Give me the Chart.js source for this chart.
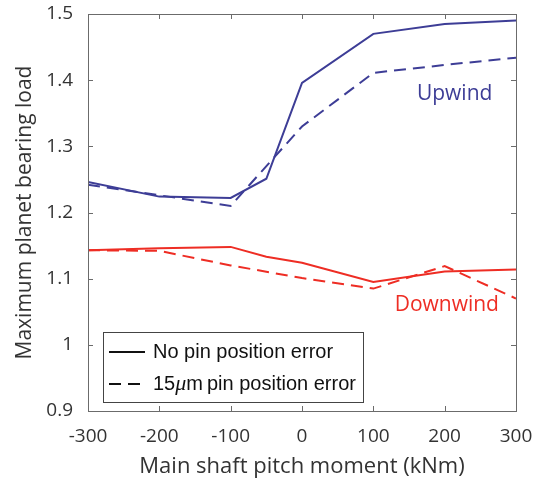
<!DOCTYPE html>
<html>
<head>
<meta charset="utf-8">
<script src="https://cdn.jsdelivr.net/npm/chart.js@4/dist/chart.umd.min.js"></script>
<style>
  html, body { margin: 0; padding: 0; background: #fff; }
  #wrap { width: 539px; height: 481px; }
</style>
</head>
<body>
<div id="wrap"><canvas id="c" width="539" height="481"></canvas></div>
<script>
// pitch moment (kNm)
const moments = [-300, -200, -100, -50, 0, 100, 200, 300];
const xTicks = [-300, -200, -100, 0, 100, 200, 300];
const yTicks = [0.9, 1, 1.1, 1.2, 1.3, 1.4, 1.5];

const upwindNoError = [1.246, 1.224, 1.222, 1.251, 1.396, 1.470, 1.485, 1.490];
const upwindPinError = [1.242, 1.226, 1.210, null, 1.330, 1.411, 1.423, 1.434];
const downwindNoError = [1.143, 1.146, 1.148, 1.133, 1.124, 1.095, 1.111, 1.114];
const downwindPinError = [1.143, 1.142, 1.120, null, 1.101, 1.085, 1.119, 1.070];

const BLUE = '#3d3d96';
const RED = '#ee2d24';
const AXIS = '#6b6b6b';
const TEXT = '#333333';
const FONT = "'Open Sans', sans-serif";

function pts(ys) {
  return moments.map((x, i) => ({ x: x, y: ys[i] }));
}

function noOverflow(s) {
  s.paddingTop = 0; s.paddingBottom = 0; s.paddingLeft = 0; s.paddingRight = 0;
}

const boxAndTicks = {
  id: 'boxAndTicks',
  afterDraw(chart) {
    const ctx = chart.ctx;
    const a = chart.chartArea;
    const xs = chart.scales.x, ys = chart.scales.y;
    ctx.save();
    ctx.strokeStyle = AXIS;
    ctx.lineWidth = 1;
    ctx.strokeRect(a.left + 0.5, a.top + 0.5, a.right - a.left, a.bottom - a.top);
    ctx.beginPath();
    xTicks.forEach(v => {
      const px = Math.round(xs.getPixelForValue(v)) + 0.5;
      ctx.moveTo(px, a.bottom); ctx.lineTo(px, a.bottom - 5);
      ctx.moveTo(px, a.top); ctx.lineTo(px, a.top + 5);
    });
    yTicks.forEach(v => {
      const py = Math.round(ys.getPixelForValue(v)) + 0.5;
      ctx.moveTo(a.left, py); ctx.lineTo(a.left + 5, py);
      ctx.moveTo(a.right, py); ctx.lineTo(a.right - 5, py);
    });
    ctx.stroke();

    // series labels
    ctx.font = "21px " + FONT;
    ctx.textAlign = 'center';
    ctx.textBaseline = 'middle';
    ctx.fillStyle = BLUE;
    ctx.fillText('Upwind', xs.getPixelForValue(214), ys.getPixelForValue(1.379));
    ctx.fillStyle = RED;
    ctx.fillText('Downwind', xs.getPixelForValue(203), ys.getPixelForValue(1.060));

    // legend box
    const lx = a.left + 15, ly = a.bottom - 79, lw = 260, lh = 70;
    ctx.fillStyle = '#fff';
    ctx.fillRect(lx, ly, lw, lh);
    ctx.strokeStyle = '#444';
    ctx.lineWidth = 1;
    ctx.strokeRect(lx + 0.5, ly + 0.5, lw, lh);
    ctx.strokeStyle = '#111';
    ctx.lineWidth = 2;
    const r1 = ly + 20, r2 = ly + 52;
    ctx.beginPath();
    ctx.moveTo(lx + 6, r1); ctx.lineTo(lx + 42, r1);
    ctx.stroke();
    ctx.setLineDash([12, 7]);
    ctx.beginPath();
    ctx.moveTo(lx + 6, r2); ctx.lineTo(lx + 42, r2);
    ctx.stroke();
    ctx.setLineDash([]);
    ctx.fillStyle = '#111';
    ctx.textAlign = 'left';
    const lf = "20px 'Liberation Sans', Arial, sans-serif";
    ctx.font = lf;
    const tx = lx + 50;
    ctx.fillText('No pin position error', tx, r1);
    let cx = tx;
    ctx.fillText('15', cx, r2);
    cx += ctx.measureText('15').width;
    ctx.font = "italic 22px 'Liberation Serif', serif";
    ctx.fillText('\u03bc', cx, r2);
    cx += ctx.measureText('\u03bc').width;
    ctx.font = lf;
    ctx.fillText('m', cx, r2);
    cx += ctx.measureText('m').width + 4;
    ctx.fillText('pin position error', cx, r2);
    ctx.restore();
  }
};

new Chart(document.getElementById('c'), {
  type: 'line',
  data: {
    datasets: [
      { data: pts(upwindNoError), borderColor: BLUE, borderWidth: 2 },
      { data: pts(upwindPinError), borderColor: BLUE, borderWidth: 2, borderDash: [12, 7] },
      { data: pts(downwindNoError), borderColor: RED, borderWidth: 2 },
      { data: pts(downwindPinError), borderColor: RED, borderWidth: 2, borderDash: [12, 7] }
    ]
  },
  options: {
    responsive: false,
    animation: false,
    spanGaps: true,
    elements: { point: { radius: 0 }, line: { tension: 0, fill: false } },
    layout: { padding: { top: 14, right: 23, left: 0, bottom: 0 } },
    plugins: { legend: { display: false }, tooltip: { enabled: false } },
    scales: {
      x: {
        type: 'linear',
        min: -300, max: 300,
        afterBuildTicks: s => { s.ticks = xTicks.map(v => ({ value: v })); },
        afterFit: s => { s.height = 70; noOverflow(s); },
        grid: { display: false, drawTicks: false },
        border: { display: false },
        ticks: { color: TEXT, font: { family: FONT, size: 19 }, padding: 14, maxRotation: 0 },
        title: { display: true, text: 'Main shaft pitch moment (kNm)', color: TEXT,
                 font: { family: FONT, size: 22 }, padding: { top: 0, bottom: 1 } }
      },
      y: {
        min: 0.9, max: 1.5,
        afterBuildTicks: s => { s.ticks = yTicks.map(v => ({ value: v })); },
        afterFit: s => { s.width = 88; noOverflow(s); },
        grid: { display: false, drawTicks: false },
        border: { display: false },
        ticks: { color: TEXT, font: { family: FONT, size: 19 }, padding: 15,
                 callback: v => String(Math.round(v * 10) / 10) },
        title: { display: true, text: 'Maximum planet bearing load', color: TEXT,
                 font: { family: FONT, size: 21 }, padding: { top: 12, bottom: 0 } }
      }
    }
  },
  plugins: [boxAndTicks]
});
</script>
</body>
</html>
